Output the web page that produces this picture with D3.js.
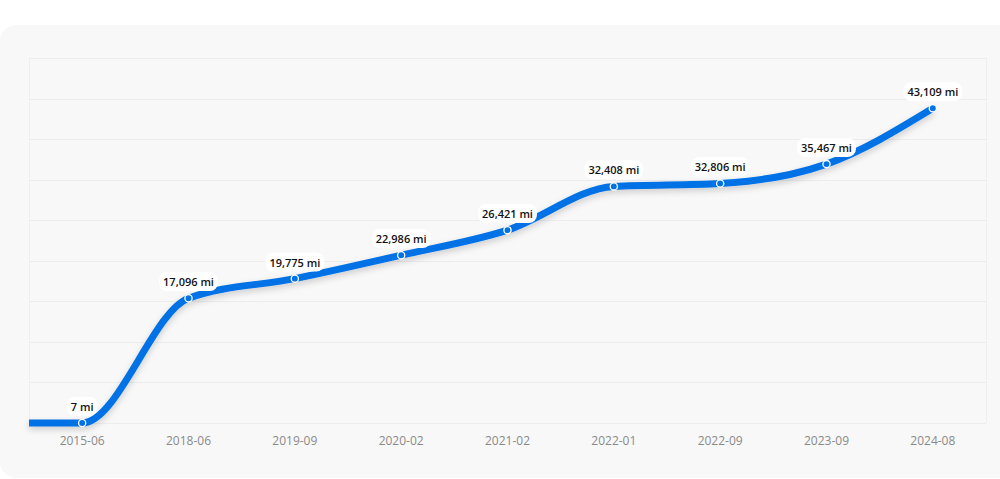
<!DOCTYPE html>
<html>
<head>
<meta charset="utf-8">
<script src="https://cdn.jsdelivr.net/npm/d3@7"></script>
<style>
  html, body { margin: 0; padding: 0; background: #fff; }
  svg { display: block; font-family: 'Segoe UI', 'Open Sans', 'Noto Sans', sans-serif; }
</style>
</head>
<body>
<div id="chart"></div>
<script>
// mileage readings by date
const dates = ['2015-06', '2018-06', '2019-09', '2020-02', '2021-02', '2022-01', '2022-09', '2023-09', '2024-08']
const miles = [7, 17096, 19775, 22986, 26421, 32408, 32806, 35467, 43109]
const yMax = 50000
const gridCount = 9

const width = 1000
const height = 479
const margin = { top: 58, right: 14, bottom: 56, left: 29 }

const svg = d3.select('#chart').append('svg')
  .attr('width', width)
  .attr('height', height)

const defs = svg.append('defs')
const shadow = defs.append('filter')
  .attr('id', 'lineShadow')
  .attr('x', '-5%').attr('y', '-20%')
  .attr('width', '110%').attr('height', '140%')
shadow.append('feDropShadow')
  .attr('dx', 0).attr('dy', 3)
  .attr('stdDeviation', 3)
  .attr('flood-color', '#000')
  .attr('flood-opacity', 0.18)

// card background
svg.append('rect')
  .attr('x', 0).attr('y', 25)
  .attr('width', width + 20).attr('height', 453)
  .attr('rx', 16)
  .attr('fill', '#f8f8f8')

const xScale = d3.scaleBand()
  .domain(dates)
  .range([margin.left, width - margin.right])

const yScale = d3.scaleLinear()
  .domain([0, yMax])
  .range([height - margin.bottom, margin.top])

const xPos = d => xScale(d) + xScale.bandwidth() / 2

// grid
const grid = svg.append('g')
grid.selectAll('line.h')
  .data(d3.range(gridCount + 1).map(i => i * yMax / gridCount))
  .join('line')
  .attr('class', 'h')
  .attr('x1', margin.left).attr('x2', width - margin.right)
  .attr('y1', d => Math.round(yScale(d)) + 0.5)
  .attr('y2', d => Math.round(yScale(d)) + 0.5)
  .attr('stroke', '#ececec')
  .attr('stroke-width', 1)
grid.selectAll('line.v')
  .data([margin.left, width - margin.right])
  .join('line')
  .attr('class', 'v')
  .attr('x1', d => d + 0.5).attr('x2', d => d + 0.5)
  .attr('y1', yScale(yMax)).attr('y2', yScale(0))
  .attr('stroke', '#efefef')

// x axis labels
svg.append('g')
  .attr('transform', `translate(0, ${height - margin.bottom})`)
  .call(d3.axisBottom(xScale).tickSize(0).tickPadding(13))
  .call(g => g.select('.domain').remove())
  .selectAll('text')
  .attr('fill', '#8a8a8a')
  .style('font-size', '12px')
  .style('font-family', "'Segoe UI', 'Open Sans', 'Noto Sans', sans-serif")

// line, flat lead-in from the left edge
const points = dates.map((d, i) => [xPos(d), yScale(miles[i])])
const linePoints = [[margin.left, yScale(miles[0])]].concat(points)

const line = d3.line().curve(d3.curveMonotoneX)

svg.append('path')
  .attr('d', line(linePoints))
  .attr('fill', 'none')
  .attr('stroke', '#0072e6')
  .attr('stroke-width', 7)
  .attr('stroke-linecap', 'butt')
  .attr('filter', 'url(#lineShadow)')

svg.append('g')
  .selectAll('circle')
  .data(points)
  .join('circle')
  .attr('cx', d => d[0])
  .attr('cy', d => d[1])
  .attr('r', 3.6)
  .attr('fill', '#0072e6')
  .attr('stroke', '#fff')
  .attr('stroke-width', 1.3)

// value labels
const labels = svg.append('g')
  .selectAll('g')
  .data(dates)
  .join('g')
  .attr('transform', (d, i) => `translate(${xPos(d)}, ${yScale(miles[i]) - 16})`)

labels.append('text')
  .attr('text-anchor', 'middle')
  .attr('dy', '0.35em')
  .style('font-size', '11px')
  .style('font-weight', 600)
  .attr('fill', '#111')
  .text((d, i) => d3.format(',')(miles[i]) + ' mi')

labels.each(function () {
  const g = d3.select(this)
  const b = g.select('text').node().getBBox()
  g.insert('rect', 'text')
    .attr('x', b.x - 4).attr('y', b.y - 2)
    .attr('width', b.width + 8).attr('height', b.height + 4)
    .attr('rx', 8)
    .attr('fill', '#fff')
})
</script>
</body>
</html>
